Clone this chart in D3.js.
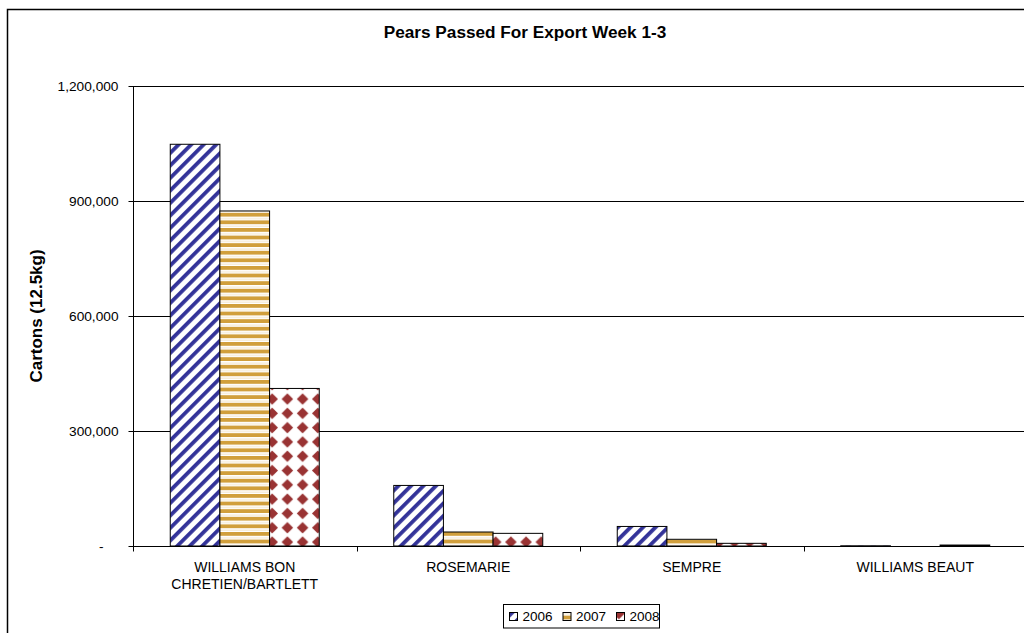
<!DOCTYPE html>
<html>
<head>
<meta charset="utf-8">
<script src="https://cdn.jsdelivr.net/npm/d3@7/dist/d3.min.js"></script>
<style>
  html, body { margin: 0; padding: 0; background: #fff; }
  svg { display: block; font-family: "Liberation Sans", Arial, sans-serif; }
</style>
</head>
<body>
<svg id="chart" width="1024" height="633"></svg>
<script>
const categories = ["WILLIAMS BON CHRETIEN/BARTLETT", "ROSEMARIE", "SEMPRE", "WILLIAMS BEAUT"];
const categoryLines = [["WILLIAMS BON", "CHRETIEN/BARTLETT"], ["ROSEMARIE"], ["SEMPRE"], ["WILLIAMS BEAUT"]];
const seriesNames = ["2006", "2007", "2008"];
const values2006 = [1048000, 158000, 51000, 600];
const values2007 = [874000, 36500, 17500, 0];
const values2008 = [411000, 33000, 7000, 2500];
const yTicks = [0, 300000, 600000, 900000, 1200000];
const titleText = "Pears Passed For Export Week 1-3";
const yTitleText = "Cartons (12.5kg)";

const seriesValues = [values2006, values2007, values2008];

const svg = d3.select("#chart");
const defs = svg.append("defs");

// Patterns
const p1 = defs.append("pattern").attr("id", "pat2006")
  .attr("patternUnits", "userSpaceOnUse").attr("width", 8.84).attr("height", 8.84)
  .attr("patternTransform", "rotate(45)");
p1.append("rect").attr("width", 8.84).attr("height", 8.84).attr("fill", "#fff");
p1.append("rect").attr("width", 3.8).attr("height", 8.84).attr("fill", "#333399");

const p2 = defs.append("pattern").attr("id", "pat2007")
  .attr("patternUnits", "userSpaceOnUse").attr("width", 10).attr("height", 7.6);
p2.append("rect").attr("width", 10).attr("height", 7.6).attr("fill", "#fff");
p2.append("rect").attr("y", 0).attr("width", 10).attr("height", 3.8).attr("fill", "#d19f3c");
p2.append("rect").attr("y", 5.4).attr("width", 10).attr("height", 0.8).attr("fill", "#f0dfbb");

const p3 = defs.append("pattern").attr("id", "pat2008")
  .attr("patternUnits", "userSpaceOnUse").attr("width", 15.2).attr("height", 14.3)
  .attr("x", 10).attr("y", 5.8);
p3.append("rect").attr("width", 15.2).attr("height", 14.3).attr("fill", "#fff");
p3.append("path").attr("d", "M7.6,1.4 L13.4,7.15 L7.6,12.9 L1.8,7.15 Z").attr("fill", "#993333");

const fills = ["url(#pat2006)", "url(#pat2007)", "url(#pat2008)"];

// Outer border
svg.append("rect").attr("x", 7.5).attr("y", 9.5).attr("width", 1100).attr("height", 1000)
  .attr("fill", "none").attr("stroke", "#000").attr("stroke-width", 1.5);

const plotLeft = 133, plotRight = 1027, plotTop = 86, plotBottom = 546;

const x0 = d3.scaleBand().domain(categories).range([plotLeft, plotRight]).paddingInner(0).paddingOuter(0);
const x1 = d3.scaleBand().domain(seriesNames).range([0, x0.bandwidth()]).paddingInner(0).paddingOuter(0.75);
const y = d3.scaleLinear().domain([0, 1200000]).range([plotBottom, plotTop]);

// Gridlines
svg.append("g").selectAll("line").data(yTicks.filter(d => d > 0)).join("line")
  .attr("x1", plotLeft).attr("x2", plotRight)
  .attr("y1", d => Math.round(y(d)) + 0.5).attr("y2", d => Math.round(y(d)) + 0.5)
  .attr("stroke", "#000").attr("stroke-width", 1);

// Bars
const groups = svg.append("g").selectAll("g").data(categories).join("g")
  .attr("transform", d => `translate(${x0(d)},0)`);
groups.selectAll("rect").data((c, ci) => seriesNames.map((s, si) => ({ s, si, v: seriesValues[si][ci] })))
  .join("rect")
  .attr("x", d => x1(d.s))
  .attr("y", d => y(d.v))
  .attr("width", x1.bandwidth())
  .attr("height", d => plotBottom - y(d.v))
  .attr("fill", d => fills[d.si])
  .attr("stroke", d => d.v > 0 ? "#000" : "none")
  .attr("stroke-width", 1);

// Y axis
const yAxis = d3.axisLeft(y).tickValues(yTicks).tickSize(5).tickPadding(10)
  .tickFormat(d => d === 0 ? "-" : d3.format(",")(d));
const gy = svg.append("g").attr("transform", `translate(${plotLeft + 0.5},0)`).call(yAxis);
gy.select(".domain").attr("d", `M0,${plotTop}V${plotBottom + 5}`).attr("stroke", "#000");
gy.selectAll(".tick line").attr("stroke", "#000");
gy.selectAll(".tick text").attr("font-size", "13.7px").attr("fill", "#000")
  .attr("font-family", "'Liberation Sans', Arial, sans-serif")
  .attr("dx", d => d === 0 ? -15 : 0);

// X axis
const gx = svg.append("g").attr("transform", `translate(0,${plotBottom + 0.5})`);
gx.append("line").attr("x1", plotLeft).attr("x2", plotRight).attr("stroke", "#000");
const boundaries = categories.map(c => x0(c)).concat([x0(categories[categories.length - 1]) + x0.bandwidth()]);
gx.selectAll(".btick").data(boundaries).join("line").attr("class", "btick")
  .attr("x1", d => Math.round(d) + 0.5).attr("x2", d => Math.round(d) + 0.5)
  .attr("y1", 0).attr("y2", 5).attr("stroke", "#000");

const labels = svg.append("g").selectAll("text").data(categories).join("text")
  .attr("x", d => x0(d) + x0.bandwidth() / 2)
  .attr("y", 572)
  .attr("text-anchor", "middle").attr("font-size", "14px").attr("fill", "#000");
labels.each(function (d, i) {
  const t = d3.select(this);
  categoryLines[i].forEach((ln, li) => {
    t.append("tspan").attr("x", x0(d) + x0.bandwidth() / 2).attr("dy", li === 0 ? 0 : 16.5).text(ln);
  });
});

// Title
svg.append("text").attr("x", 525).attr("y", 38).attr("text-anchor", "middle")
  .attr("font-size", "17.2px").attr("font-weight", "bold").text(titleText);

// Y title
svg.append("text").attr("transform", "translate(42,316) rotate(-90)").attr("text-anchor", "middle")
  .attr("font-size", "17px").attr("font-weight", "bold").text(yTitleText);

// Legend
const lg = svg.append("g");
lg.append("rect").attr("x", 503.5).attr("y", 604.5).attr("width", 156).attr("height", 23.5)
  .attr("fill", "#fff").attr("stroke", "#000").attr("stroke-width", 1);
const items = lg.selectAll("g").data(seriesNames).join("g")
  .attr("transform", (d, i) => `translate(${509.5 + i * 53.5},0)`);
items.append("rect").attr("x", 0).attr("y", 612.5).attr("width", 8).attr("height", 8)
  .attr("fill", (d, i) => fills[i]).attr("stroke", "#000").attr("stroke-width", 1);
items.append("text").attr("x", 13).attr("y", 621).attr("font-size", "13.5px").text(d => d);
</script>
</body>
</html>
